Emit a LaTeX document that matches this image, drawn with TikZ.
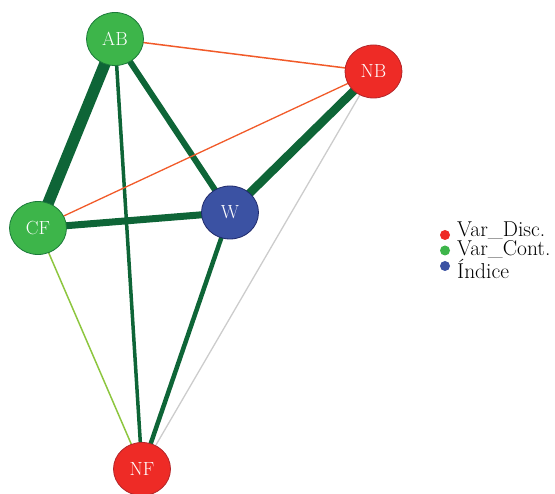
\documentclass[tikz,border=0pt]{standalone}
\usepackage{fontspec}
\setmainfont{Latin Modern Roman}
\usepackage{tikz}
\usetikzlibrary{shapes.geometric}
\definecolor{dgreen}{HTML}{0E6537}
\definecolor{ngreen}{HTML}{3DB54A}
\definecolor{ngreenb}{HTML}{1B7A3A}
\definecolor{nred}{HTML}{EE2B26}
\definecolor{nredb}{HTML}{B3262A}
\definecolor{nblue}{HTML}{3B52A3}
\definecolor{nblueb}{HTML}{1F2A6B}
\definecolor{orng}{HTML}{F15A29}
\definecolor{lgreen}{HTML}{8DC63F}
\definecolor{lgray}{HTML}{CCCCCC}
\tikzset{
  vnode/.style={ellipse, minimum width=57pt, minimum height=53pt, inner sep=0pt, line width=0.8pt, text=white, font=\fontsize{19}{19}\selectfont},
  gnode/.style={vnode, fill=ngreen, draw=ngreenb},
  rnode/.style={vnode, fill=nred, draw=nredb},
  bnode/.style={vnode, fill=nblue, draw=nblueb},
  edge/.style={draw=dgreen},
  legdot/.style={circle, inner sep=0pt, minimum size=10pt},
  legtext/.style={anchor=north west, inner sep=0pt, align=left, font=\fontsize{21.5}{15.5}\selectfont}
}
\begin{document}
\begin{tikzpicture}[x=1pt,y=-1pt]
\useasboundingbox (0,0) rectangle (555,494);
% node positions
\coordinate (pAB) at (115,39);
\coordinate (pNB) at (373.5,71.5);
\coordinate (pCF) at (38,228);
\coordinate (pW) at (230,212.5);
\coordinate (pNF) at (142,469);
% edges
\draw[edge, line width=11.5pt] (pAB) -- (pCF);
\draw[edge, line width=6pt] (pAB) -- (pW);
\draw[edge, line width=3.5pt] (pAB) -- (pNF);
\draw[draw=orng, line width=1.5pt] (pAB) -- (pNB);
\draw[draw=orng, line width=1.3pt] (pNB) -- (pCF);
\draw[edge, line width=8.5pt] (pNB) -- (pW);
\draw[draw=lgray, line width=1.3pt] (pNB) -- (pNF);
\draw[edge, line width=7pt] (pCF) -- (pW);
\draw[draw=lgreen, line width=1.5pt] (pCF) -- (pNF);
\draw[edge, line width=4.5pt] (pW) -- (pNF);
% nodes
\node[gnode] (AB) at (pAB) {AB};
\node[rnode] (NB) at (pNB) {NB};
\node[gnode] (CF) at (pCF) {CF};
\node[bnode] (W) at (pW) {W};
\node[rnode] (NF) at (pNF) {NF};
% legend
\node[legdot, fill=nred] (d1) at (445,235) {};
\node[legdot, fill=ngreen] (d2) at (445,250.5) {};
\node[legdot, fill=nblue] (d3) at (445,266) {};
\node[legtext] (leg) at (457,222) {Var\_Disc.\\Var\_Cont.\\Índice};
\end{tikzpicture}
\end{document}
